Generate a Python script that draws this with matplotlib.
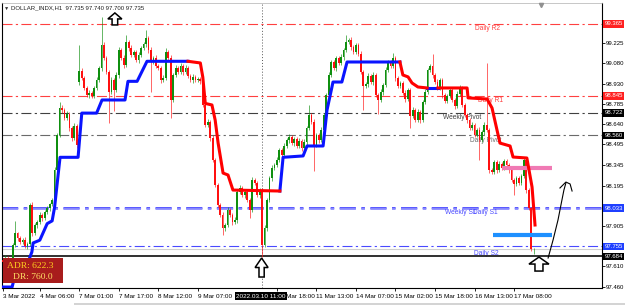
import matplotlib.pyplot as plt
from matplotlib.patches import Polygon, Rectangle
import numpy as np

plt.rcParams['font.family'] = ['Liberation Sans', 'DejaVu Sans']

# H1 candles (closes, open of bar 0, one weekend gap)
closes = [
    97.642, 97.671, 97.642, 97.621, 97.765, 97.852, 97.816, 97.787, 97.801, 97.758,
    97.772, 98.055, 97.852, 97.910, 97.932, 97.982, 97.960, 98.004, 98.033, 98.062,
    98.091, 98.308, 98.562, 98.757, 98.743, 98.685, 98.714, 98.612, 98.540, 98.627,
    98.489, 99.025, 98.974, 98.902, 98.851, 98.866, 98.844, 98.902, 98.960, 99.047,
    99.213, 99.119, 99.018, 98.873, 98.960, 98.887, 98.996, 99.177, 99.119, 99.068,
    99.235, 99.191, 99.141, 99.163, 99.105, 99.141, 99.191, 99.220, 99.264, 99.177,
    99.090, 99.119, 99.061, 99.047, 98.960, 98.974, 99.163, 99.119, 98.815, 98.996,
    99.047, 99.018, 99.061, 99.018, 99.047, 98.989, 98.960, 98.982, 98.960, 98.967,
    98.953, 98.779, 98.634, 98.656, 98.540, 98.381, 98.200, 98.055, 97.982, 97.888,
    97.910, 98.019, 97.982, 97.932, 97.946, 98.149, 98.178, 98.127, 98.149, 98.091,
    98.019, 98.236, 98.214, 98.127, 98.163, 97.765, 97.888, 98.091, 98.250, 98.323,
    98.344, 98.381, 98.453, 98.417, 98.482, 98.525, 98.547, 98.504, 98.533, 98.482,
    98.518, 98.467, 98.511, 98.612, 98.706, 98.656, 98.489, 98.562, 98.525, 98.598,
    98.706, 98.851, 98.996, 99.090, 99.047, 99.119, 99.083, 99.126, 99.177, 99.235,
    99.249, 99.199, 99.163, 99.213, 99.148, 99.018, 98.917, 98.931, 98.989, 98.945,
    98.996, 98.851, 98.815, 98.873, 98.924, 99.032, 99.090, 99.061, 99.119, 98.974,
    98.917, 98.938, 98.866, 98.822, 98.887, 98.699, 98.743, 98.670, 98.728, 98.670,
    98.800, 98.873, 99.032, 99.061, 98.996, 98.945, 98.902, 98.960, 98.851, 98.808,
    98.844, 98.887, 98.815, 98.772, 98.859, 98.902, 98.779, 98.706, 98.670, 98.612,
    98.634, 98.562, 98.598, 98.525, 98.583, 98.634, 98.598, 98.308, 98.293, 98.366,
    98.308, 98.352, 98.323, 98.373, 98.344, 98.308, 98.236, 98.207, 98.250, 98.214,
    98.265, 98.381, 98.163, 98.033, 97.735, 97.735,
]
first_open = 97.660
gap_opens = {31: 98.945}

# wick lengths above / below the body, in thousandths
wick_up = [
    12, 20, 15, 10, 18, 90, 10, 15, 12, 20,
    15, 15, 20, 12, 15, 20, 18, 12, 15, 10,
    15, 20, 15, 45, 20, 15, 20, 12, 15, 20,
    15, 188, 20, 15, 12, 18, 15, 12, 20, 15,
    203, 20, 15, 12, 18, 15, 20, 25, 15, 20,
    51, 15, 20, 15, 12, 20, 15, 18, 58, 15,
    20, 15, 18, 15, 12, 20, 25, 15, 20, 15,
    18, 12, 20, 15, 18, 12, 15, 20, 12, 15,
    15, 20, 12, 18, 15, 20, 15, 12, 15, 20,
    15, 18, 12, 15, 20, 15, 18, 12, 15, 20,
    15, 20, 15, 12, 18, 15, 20, 15, 12, 20,
    15, 20, 12, 15, 18, 12, 20, 15, 12, 15,
    20, 15, 18, 12, 74, 15, 20, 15, 12, 18,
    15, 12, 20, 15, 18, 15, 12, 20, 15, 51,
    15, 20, 12, 15, 18, 20, 15, 12, 18, 15,
    20, 15, 12, 18, 15, 20, 15, 12, 36, 15,
    18, 12, 15, 20, 15, 12, 18, 15, 20, 12,
    15, 20, 18, 12, 89, 15, 20, 12, 15, 18,
    15, 20, 12, 15, 18, 20, 15, 12, 18, 15,
    20, 15, 12, 18, 15, 20, 446, 15, 12, 18,
    15, 20, 12, 18, 15, 12, 20, 15, 18, 12,
    15, 20, 12, 15, 5, 5,
]
wick_dn = [
    15, 12, 18, 20, 21, 15, 20, 12, 18, 15,
    20, 12, 18, 15, 20, 12, 18, 15, 12, 20,
    15, 12, 18, 15, 20, 12, 15, 18, 20, 15,
    18, 20, 15, 12, 18, 20, 15, 12, 18, 15,
    20, 15, 18, 225, 12, 150, 15, 20, 12, 18,
    15, 20, 12, 18, 15, 20, 12, 15, 18, 20,
    220, 15, 18, 12, 20, 15, 12, 18, 130, 15,
    12, 18, 15, 20, 12, 15, 18, 20, 15, 12,
    20, 15, 18, 12, 20, 15, 18, 12, 15, 50,
    18, 12, 15, 20, 15, 18, 12, 15, 20, 15,
    59, 12, 18, 15, 20, 85, 15, 20, 12, 18,
    15, 12, 18, 20, 15, 12, 18, 15, 20, 12,
    15, 18, 12, 20, 15, 12, 189, 15, 18, 12,
    20, 15, 12, 18, 15, 20, 12, 15, 18, 12,
    15, 20, 12, 18, 15, 12, 177, 15, 20, 12,
    18, 15, 105, 12, 20, 15, 12, 18, 15, 20,
    12, 18, 15, 20, 12, 89, 15, 18, 12, 20,
    15, 12, 18, 15, 20, 12, 15, 18, 20, 12,
    18, 15, 12, 20, 15, 12, 18, 15, 20, 12,
    15, 18, 12, 145, 15, 20, 12, 18, 15, 12,
    20, 15, 12, 18, 15, 20, 12, 77, 15, 18,
    12, 15, 20, 12, 10, 35,
]

# trend line (blue = up, red = down), vertices as (bar, price)
trend_up = [
    ([-0.5, 3.8, 5.0, 10.0, 11.8, 12.3, 15.0, 18.0, 20.0, 21.0, 23.2, 30.5, 32.0,
      38.0, 40.2, 49.5, 50.7, 54.4, 58.4, 75.0],
     [97.461, 97.461, 97.55, 97.63, 97.715, 97.78, 97.80, 97.92, 97.94, 98.04, 98.40,
      98.40, 98.72, 98.72, 98.815, 98.815, 98.95, 98.95, 99.095, 99.095]),
    ([112.2, 113.5, 121.6, 123.2, 129.7, 131.3, 133.3, 133.7, 137.3, 139.4, 160.8],
     [98.156, 98.40, 98.41, 98.482, 98.482, 98.743, 98.91, 98.945, 98.945, 99.09, 99.09]),
    ([171.8, 176.2], [98.902, 98.902]),
]
trend_dn = [
    ([75.0, 80.0, 81.0, 82.0, 84.7, 86.0, 87.2, 89.2, 91.2, 93.2, 112.2],
     [99.095, 99.083, 98.98, 98.79, 98.779, 98.67, 98.503, 98.286, 98.272, 98.163, 98.156]),
    ([160.8, 162.0, 164.1, 165.7, 168.1, 171.8],
     [99.09, 98.996, 98.982, 98.938, 98.909, 98.902]),
    ([176.2, 188.0, 188.4, 196.1, 198.1, 200.1, 201.3, 205.4, 206.6, 212.2, 214.3, 215.5],
     [98.902, 98.902, 98.83, 98.822, 98.757, 98.598, 98.503, 98.482, 98.402, 98.395,
      98.185, 97.91]),
]

# pivot levels
level_names = ['Daily R2', 'Daily R1', 'Weekly Pivot', 'Daily Pivot', 'Weekly S1', 'Daily S1', 'Daily S2']
level_prices = [99.365, 98.845, 98.722, 98.560, 98.033, 98.025, 97.755]
level_colors = ['#ff4040', '#ff4040', '#404040', '#6a6a6a', '#4a4aff', '#8c8cff', '#4a4aff']
level_widths = [0.8, 0.8, 0.8, 0.8, 1.3, 1.3, 0.8]
label_bars = [191.2, 192.4, 178.2, 189.2, 179.0, 190.4, 190.8]
label_prices = [99.329, 98.808, 98.685, 98.525, 97.997, 98.004, 97.707]
line_price = 97.684
bid_price = 97.735

# right scale
ytick_vals = [99.225, 99.080, 98.930, 98.785, 98.640, 98.495, 98.345, 98.195, 97.905, 97.610, 97.460]
box_prices = [99.365, 98.845, 98.722, 98.560, 98.033, 97.755, 97.684]
box_colors = ['#ff2020', '#ff2020', '#000000', '#000000', '#1f3fff', '#1f3fff', '#000000']

# time scale
xtick_bars = [0, 15, 31, 47, 63, 79, 111, 127, 143, 159, 175, 191, 207]
xtick_labels = ['3 Mar 2022', '4 Mar 06:00', '7 Mar 01:00', '7 Mar 17:00', '8 Mar 12:00',
                '9 Mar 07:00', '10 Mar 18:00', '11 Mar 13:00', '14 Mar 07:00',
                '15 Mar 02:00', '15 Mar 18:00', '16 Mar 13:00', '17 Mar 08:00']
cross_bar = 105

# hand drawn marks
zone_pink = ([202.1, 222.4], 98.323)
zone_blue = ([198.5, 222.4], 97.841)
sketch_x = [220.8, 222.8, 224.8, 226.4, 227.2, 228.0]
sketch_y = [97.671, 97.801, 97.946, 98.091, 98.163, 98.214]
hook_x = [225.6, 228.0, 229.7, 230.5]
hook_y = [98.178, 98.221, 98.207, 98.156]
arrows = [(45.4, 99.445, 14, 12), (104.8, 97.671, 13, 19), (217.1, 97.678, 20, 14)]

# ------------------------------------------------------------------
n = len(closes)
c = np.array(closes)
o = np.array([first_open] + closes[:-1])
for k, v in gap_opens.items():
    o[k] = v
hi = np.maximum(o, c) + np.array(wick_up) / 1000
lo = np.minimum(o, c) - np.array(wick_dn) / 1000
x = np.arange(n)

W, H = 625, 305
fig = plt.figure(figsize=(W / 100, H / 100), dpi=100)
ax = fig.add_axes([2 / W, 17 / H, 600 / W, 285 / H])
xmin, xmax = -0.30, 242.62
ymin, ymax = 97.454, 99.517
ax.set_xlim(xmin, xmax)
ax.set_ylim(ymin, ymax)
px_x = (xmax - xmin) / 600
px_y = (ymax - ymin) / 285

# levels + labels
dash = (0, (9, 3, 2, 3))
for p, col, lw in zip(level_prices, level_colors, level_widths):
    ax.axhline(p, color=col, lw=lw, ls=dash, zorder=1)
for name, b, p, col in zip(level_names, label_bars, label_prices, level_colors):
    ax.text(b, p, name, color=col if name != 'Daily S1' else '#4a4aff', fontsize=4.8,
            va='center', ha='left', zorder=1.2)
ax.axhline(bid_price, color='#d0d0d0', lw=0.8, zorder=1)
ax.axhline(line_price, color='#202020', lw=1.3, zorder=1.5)
ax.axvline(cross_bar, color='#555555', lw=0.7, ls=(0, (1, 2)), zorder=1.5)

# candles
up = c >= o
cols = np.where(up, '#0f8f0f', '#ff1010')
ax.vlines(x, lo, hi, colors=cols, lw=0.6, alpha=0.75, zorder=2)
body_bot = np.minimum(o, c)
body_h = np.maximum(np.abs(c - o), 0.004)
ax.bar(x, body_h, bottom=body_bot, width=0.72, color=cols, lw=0, zorder=3)

# zones
ax.plot(zone_pink[0], [zone_pink[1]] * 2, color='#f07ab4', lw=3.0, solid_capstyle='butt', zorder=4)
ax.plot(zone_blue[0], [zone_blue[1]] * 2, color='#1e90ff', lw=3.0, solid_capstyle='butt', zorder=4)

# trend line
for tx, ty in trend_up:
    ax.plot(tx, ty, color='#0a14ff', lw=2.2, solid_joinstyle='round', zorder=5)
for tx, ty in trend_dn:
    ax.plot(tx, ty, color='#ff0000', lw=2.2, solid_joinstyle='round', zorder=5)

# sketch
ax.plot(sketch_x, sketch_y, color='black', lw=0.8, zorder=6)
ax.plot(hook_x, hook_y, color='black', lw=0.8, zorder=6)


def up_arrow(xc, tip, w, h):
    hw, sw, hh = w / 2, w * 0.2, h * 0.5
    pts = [(0, 0), (hw, hh), (sw, hh), (sw, h), (-sw, h), (-sw, hh), (-hw, hh)]
    xy = [(xc + dx * px_x, tip - dy * px_y) for dx, dy in pts]
    ax.add_patch(Polygon(xy, closed=True, fc='white', ec='black', lw=1.1,
                         zorder=7, clip_on=False, joinstyle='miter'))


for a in arrows:
    up_arrow(*a)

# shift marker
ax.plot([218], [ymax - 2 * px_y], marker='v', ms=3, color='#909090', clip_on=False, zorder=8)

# axes look
for s in ['left', 'bottom', 'right']:
    ax.spines[s].set_color('black')
    ax.spines[s].set_linewidth(0.8)
ax.spines['top'].set_color('#b0b0b0')
ax.spines['top'].set_linewidth(0.5)

ax.yaxis.tick_right()
ax.set_yticks(ytick_vals, [f'{v:.3f}' for v in ytick_vals])
ax.tick_params(axis='y', length=2, width=0.6, pad=1.0, labelsize=4.3)
ax.set_xticks(xtick_bars, xtick_labels)
ax.tick_params(axis='x', length=2.5, width=0.6, pad=2, labelsize=4.6)
for lab in ax.get_xticklabels():
    lab.set_ha('left')

ytr = ax.get_yaxis_transform()
for p, bg in zip(box_prices, box_colors):
    ax.text(1.004, p, f'{p:.3f}', transform=ytr, ha='left', va='center', fontsize=4.3,
            color='white', zorder=10, clip_on=False,
            bbox=dict(boxstyle='square,pad=0.2', fc=bg, ec='none'))

xtr = ax.get_xaxis_transform()
ax.text(cross_bar - 0.6, -0.029, '2022.03.10 11:00', transform=xtr, ha='center', va='center',
        fontsize=4.6, color='white', zorder=10, clip_on=False,
        bbox=dict(boxstyle='square,pad=0.2', fc='black', ec='none'))

# title
fig.text(4 / W, 1 - 8 / H, '\u25bc', fontsize=3.8, va='center', ha='left', color='#303030')
fig.text(11 / W, 1 - 8 / H, 'DOLLAR_INDX,H1  97.735 97.740 97.700 97.735', fontsize=4.3,
         va='center', ha='left', color='#202020')

# ADR box
fig.add_artist(Rectangle((3 / W, 1 - 283 / H), 60 / W, 25 / H, transform=fig.transFigure,
                         fc='#a81c1c', ec='none', zorder=5))
fig.text(7 / W, 1 - 266 / H, 'ADR: 622.3', fontsize=6.8, family='Liberation Serif',
         color='#ffd21e', va='center', ha='left', zorder=6)
fig.text(13 / W, 1 - 277 / H, 'DR: 760.0', fontsize=6.8, family='Liberation Serif',
         color='#ffe066', va='center', ha='left', zorder=6)

# bottom tab strip
fig.add_artist(Rectangle((74 / W, 0), 551 / W, 2 / H, transform=fig.transFigure,
                         fc='#d4d4d4', ec='none'))

fig.savefig('out.png', dpi=100)
